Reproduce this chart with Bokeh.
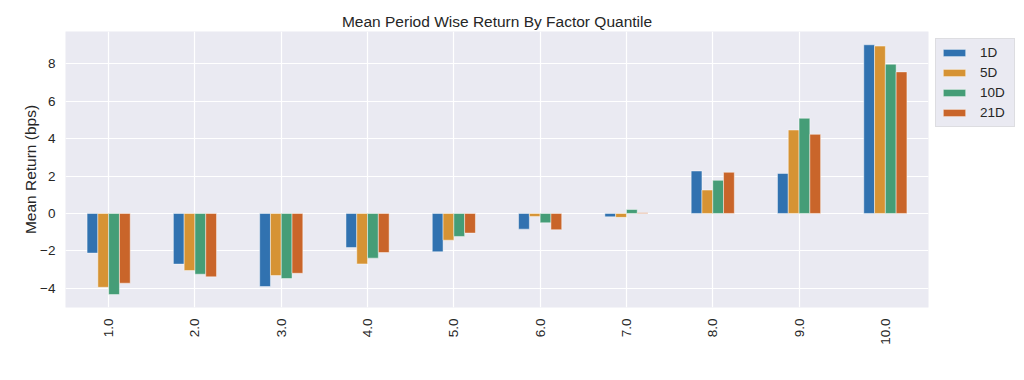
import math
from bokeh.plotting import figure
from bokeh.models import (FactorRange, Range1d, FixedTicker, Legend, LegendItem,
                          ColumnDataSource, Title)
from bokeh.transform import dodge
from bokeh.embed import file_html
from bokeh.resources import INLINE

quantiles = ["1.0", "2.0", "3.0", "4.0", "5.0", "6.0", "7.0", "8.0", "9.0", "10.0"]
series_names = ["1D", "5D", "10D", "21D"]
ret_1d = [-2.12, -2.71, -3.91, -1.82, -2.05, -0.84, -0.18, 2.27, 2.14, 9.02]
ret_5d = [-3.95, -3.05, -3.32, -2.70, -1.43, -0.16, -0.21, 1.25, 4.46, 8.95]
ret_10d = [-4.34, -3.25, -3.48, -2.39, -1.23, -0.50, 0.21, 1.77, 5.09, 7.98]
ret_21d = [-3.73, -3.39, -3.20, -2.09, -1.05, -0.87, 0.04, 2.20, 4.23, 7.57]
y_ticks = [-4, -2, 0, 2, 4, 6, 8]

colors = ["#3172b0", "#d69334", "#459d77", "#c9652a"]
FONT = "Liberation Sans"
TEXT = "#262626"

src = ColumnDataSource(dict(q=quantiles, s1=ret_1d, s2=ret_5d, s3=ret_10d, s4=ret_21d))

p = figure(x_range=FactorRange(*quantiles), y_range=Range1d(-5.03, 9.73),
           frame_width=863, frame_height=276,
           min_border_left=65, min_border_top=31, min_border_bottom=50, min_border_right=0,
           output_backend="svg", toolbar_location=None)

p.title = Title(text="Mean Period Wise Return By Factor Quantile", align="center",
                text_font=FONT, text_font_size="15.5px", text_font_style="normal",
                text_color=TEXT, standoff=4)

bw = 0.125
offsets = [-0.1875, -0.0625, 0.0625, 0.1875]
cols = ["s1", "s2", "s3", "s4"]
items = []
for name, col, off, c in zip(series_names, cols, offsets, colors):
    r = p.vbar(x=dodge("q", off, range=p.x_range), top=col, bottom=0, width=bw,
               source=src, fill_color=c, line_color="white", line_alpha=0.45, line_width=1)
    items.append(LegendItem(label=name, renderers=[r]))

p.background_fill_color = "#eaeaf2"
p.border_fill_color = "white"
p.outline_line_color = None

p.xgrid.grid_line_color = "white"
p.ygrid.grid_line_color = "white"
p.xgrid.grid_line_width = 1.2
p.ygrid.grid_line_width = 1.2

p.yaxis.ticker = FixedTicker(ticks=y_ticks)
for ax in (p.xaxis[0], p.yaxis[0]):
    ax.axis_line_color = None
    ax.major_tick_line_color = None
    ax.minor_tick_line_color = None
    ax.major_tick_out = 0
    ax.major_tick_in = 0
    ax.minor_tick_out = 0
    ax.minor_tick_in = 0
    ax.major_label_text_font = FONT
    ax.major_label_text_font_size = "13.5px"
    ax.major_label_text_color = TEXT

p.yaxis.major_label_standoff = 10
p.yaxis.axis_label = "Mean Return (bps)"
p.yaxis.axis_label_text_font = FONT
p.yaxis.axis_label_text_font_size = "15.5px"
p.yaxis.axis_label_text_font_style = "normal"
p.yaxis.axis_label_text_color = TEXT
p.yaxis.axis_label_standoff = -2

p.xaxis.major_label_orientation = math.pi / 2
p.xaxis.major_label_standoff = 11
p.xaxis.group_text_font_size = "0px"

legend = Legend(items=items, location="top_left", margin=7, padding=4, spacing=1,
                label_height=19, glyph_height=9, glyph_width=28, label_standoff=12,
                label_width=30,
                label_text_font=FONT, label_text_font_size="13.5px", label_text_color=TEXT,
                background_fill_color="#eaeaf2", background_fill_alpha=1.0,
                border_line_color="#d0d0d0", border_line_width=1)
p.add_layout(legend, "right")

open("out.html", "w").write(file_html(p, INLINE))
